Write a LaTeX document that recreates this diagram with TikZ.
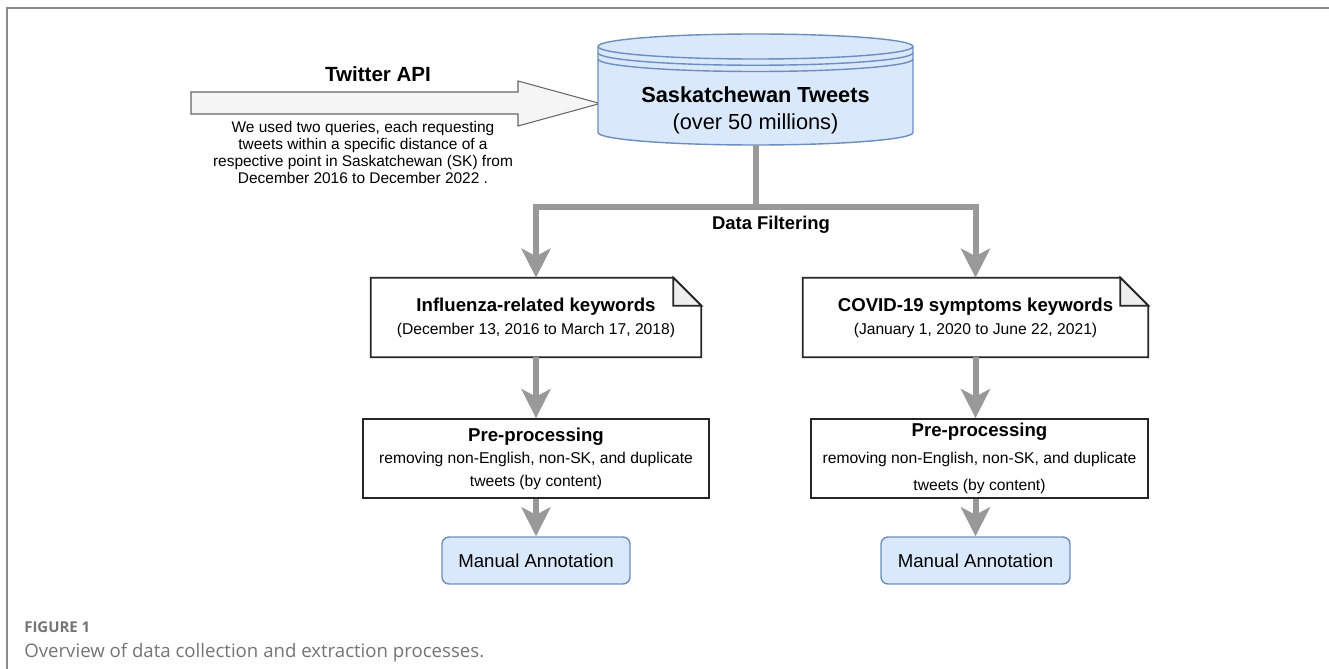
\documentclass[tikz,border=0pt]{standalone}
\usepackage{fontspec}
\setmainfont{Liberation Sans}
\newfontfamily\captionfont{Open Sans}
\usetikzlibrary{arrows.meta,positioning}

\definecolor{linkgray}{HTML}{999999}
\definecolor{dbfill}{HTML}{DAE8FC}
\definecolor{dbline}{HTML}{6C8EBF}
\definecolor{apifill}{HTML}{F5F5F5}
\definecolor{apiline}{HTML}{666666}
\definecolor{foldfill}{HTML}{EEEEEE}
\definecolor{framegray}{HTML}{8A8A8A}
\definecolor{capgray}{HTML}{747474}

\newcommand{\boxtitle}{\fontsize{10.6}{13}\selectfont\bfseries}

\tikzset{
  trunk/.style={draw=linkgray, line width=0.12cm},
  link/.style={trunk, -{Stealth[length=0.58cm,width=0.58cm,inset=0.15cm]}},
  noteline/.style={draw=black!85, line width=1pt, line join=miter},
  notefold/.style={noteline, fill=foldfill},
  notebox/.style={minimum height=1.58cm, inner sep=0pt, align=center,
    font=\fontsize{8.9}{13.1}\selectfont},
  procbox/.style={draw=black!85, line width=1pt, minimum height=1.58cm,
    inner sep=0pt, align=center, font=\fontsize{8.9}{12.8}\selectfont},
  annot/.style={draw=dbline, fill=dbfill, line width=0.8pt, rounded corners=0.14cm,
    minimum height=0.94cm, inner sep=0pt, font=\fontsize{10.6}{12}\selectfont}
}

\begin{document}
\begin{tikzpicture}[x=0.02cm, y=-0.02cm]
	\useasboundingbox (0,0) rectangle (1329,669);
	\draw[framegray, line width=0.7pt] (7,669) -- (7,8) -- (1329,8);

	% twitter api arrow
	\draw[draw=apiline, fill=apifill, line width=0.6pt] (191,92) -- (518,92) -- (518,81) -- (600,103.5)
		-- (518,126) -- (518,114) -- (191,114) -- cycle;
	\node[anchor=base, font=\fontsize{11.7}{14}\selectfont\bfseries] (api) at (378,82) {Twitter API};
	\node[anchor=north, inner sep=0pt, align=center, font=\fontsize{8.8}{9.85}\selectfont] (query) at (363,120.5)
		{We used two queries, each requesting\\tweets within a specific distance of a\\respective point in Saskatchewan (SK) from\\December 2016 to December 2022 .};

	% data store
	\filldraw[draw=dbline, fill=dbfill, line width=0.8pt] (598,46.5) .. controls (598,39.6) and (668.5,34) .. (755.5,34)
		.. controls (842.5,34) and (913,39.6) .. (913,46.5) -- (913,132.5)
		.. controls (913,139.4) and (842.5,145) .. (755.5,145)
		.. controls (668.5,145) and (598,139.4) .. (598,132.5) -- cycle;
	\draw[dbline, line width=0.8pt] (598,46.5) .. controls (598,53.4) and (668.5,59) .. (755.5,59) .. controls (842.5,59) and (913,53.4) .. (913,46.5);
	\draw[dbline, line width=0.8pt] (598,52.75) .. controls (598,59.65) and (668.5,65.25) .. (755.5,65.25) .. controls (842.5,65.25) and (913,59.65) .. (913,52.75);
	\draw[dbline, line width=0.8pt] (598,59) .. controls (598,65.9) and (668.5,71.5) .. (755.5,71.5) .. controls (842.5,71.5) and (913,65.9) .. (913,59);
	\node[anchor=north, inner sep=0pt, align=center, font=\fontsize{12.4}{15.4}\selectfont] (tweets) at (755.5,86)
		{{\bfseries Saskatchewan Tweets}\\(over 50 millions)};
	\coordinate (dbbase) at (756,145);
	\coordinate (split) at (756,207);

	% keyword notes
	\node[notebox, minimum width=6.6cm] (flu) at (536,317.5)
		{{\boxtitle Influenza-related keywords}\\(December 13, 2016 to March 17, 2018)};
	\node[notebox, minimum width=6.9cm] (covid) at (975.5,317.5)
		{{\boxtitle COVID-19 symptoms keywords}\\(January 1, 2020 to June 22, 2021)};
	\draw[noteline] (flu.north west) -- ([xshift=-0.56cm]flu.north east) -- ([yshift=-0.56cm]flu.north east)
		-- (flu.south east) -- (flu.south west) -- cycle;
	\filldraw[notefold] ([xshift=-0.56cm]flu.north east) -- ([xshift=-0.56cm,yshift=-0.56cm]flu.north east)
		-- ([yshift=-0.56cm]flu.north east) -- cycle;
	\draw[noteline] (covid.north west) -- ([xshift=-0.56cm]covid.north east) -- ([yshift=-0.56cm]covid.north east)
		-- (covid.south east) -- (covid.south west) -- cycle;
	\filldraw[notefold] ([xshift=-0.56cm]covid.north east) -- ([xshift=-0.56cm,yshift=-0.56cm]covid.north east)
		-- ([yshift=-0.56cm]covid.north east) -- cycle;

	% pre-processing
	\node[procbox, minimum width=6.92cm] (pre1) at (536,458.5)
		{{\boxtitle Pre-processing}\\removing non-English, non-SK, and duplicate\\tweets (by content)};
	\node[procbox, minimum width=6.74cm, font=\fontsize{8.9}{15.4}\selectfont] (pre2) at (979.5,458.5)
		{{\boxtitle Pre-processing}\\removing non-English, non-SK, and duplicate\\tweets (by content)};

	\node[annot, minimum width=3.76cm] (ann1) at (536,560.5) {Manual Annotation};
	\node[annot, minimum width=3.78cm] (ann2) at (975.5,560.5) {Manual Annotation};

	% connectors
	\draw[trunk] (dbbase) -- (split);
	\draw[link] (split) -| (flu.north);
	\draw[link] (split) -| (covid.north);
	\node[anchor=base, font=\fontsize{10.5}{12}\selectfont\bfseries] (filter) at (771,229) {Data Filtering};
	\draw[link] (flu.south) -- (pre1.north);
	\draw[link] (covid.south) -- (covid.south |- pre2.north);
	\draw[link] (pre1.south) -- (ann1.north);
	\draw[link] (pre2.south -| ann2.north) -- (ann2.north);

	% caption
	\node[anchor=base west, inner sep=0pt, text=capgray, font=\captionfont\fontsize{8.5}{10}\selectfont\bfseries] (figno) at (24,632) {FIGURE 1};
	\node[anchor=base west, inner sep=0pt, text=capgray, font=\captionfont\fontsize{10.6}{12}\selectfont] (caption) at (24,657)
		{Overview of data collection and extraction processes.};
\end{tikzpicture}
\end{document}
